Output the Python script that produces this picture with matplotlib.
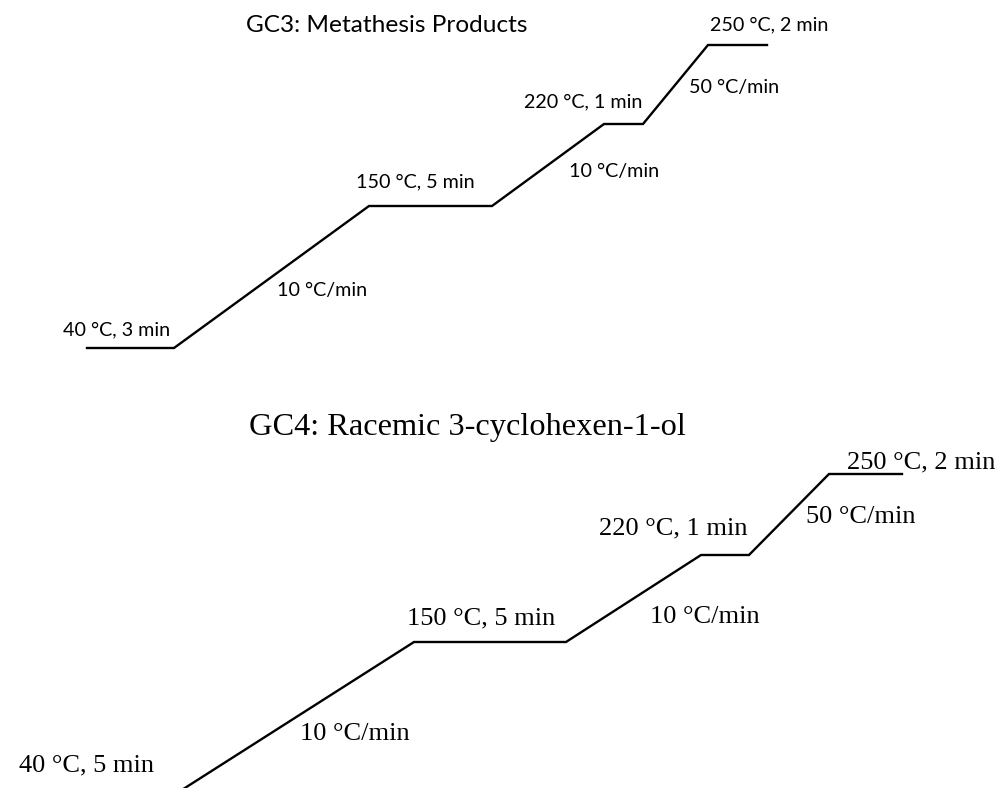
import matplotlib
matplotlib.use("Agg")
import matplotlib.pyplot as plt

# schematic temperature programs (canvas units, y grows downward)
gc3_x = [87, 174, 369, 492, 604, 643, 708, 767]
gc3_y = [348, 348, 206, 206, 124, 124, 45, 45]
gc3_labels = ["GC3: Metathesis Products", "40 °C, 3 min", "10 °C/min", "150 °C, 5 min",
              "10 °C/min", "220 °C, 1 min", "50 °C/min", "250 °C, 2 min"]
gc3_label_xy = [(387, 25), (63, 330), (277, 290), (356, 182),
                (569, 171), (524, 102), (689, 87), (710, 25)]

gc4_x = [60, 119, 414, 566, 701, 749, 829, 902]
gc4_y = [830, 830, 642, 642, 555, 555, 474, 474]
gc4_labels = ["GC4: Racemic 3-cyclohexen-1-ol", "40 °C, 5 min", "10 °C/min", "150 °C, 5 min",
              "10 °C/min", "220 °C, 1 min", "50 °C/min", "250 °C, 2 min"]
gc4_label_xy = [(467, 427), (19, 765), (300, 734), (407, 618),
                (650, 617), (599, 528), (806, 517), (847, 462)]

fig = plt.figure(figsize=(9.99, 7.88), dpi=100)
ax = fig.add_axes([0, 0, 1, 1])
ax.set_xlim(0, 999)
ax.set_ylim(788, 0)
ax.axis("off")

ax.plot(gc3_x, gc3_y, color="black", lw=1.7, solid_joinstyle="miter")
ax.plot(gc4_x, gc4_y, color="black", lw=1.7, solid_joinstyle="miter")

sans = ["Lato", "DejaVu Sans"]
serif = ["Liberation Serif", "DejaVu Serif"]

for i, (txt, (x, y)) in enumerate(zip(gc3_labels, gc3_label_xy)):
    ax.text(x, y, txt, ha="center" if i == 0 else "left", va="center",
            fontsize=17.6 if i == 0 else 14.2, family=sans)

for i, (txt, (x, y)) in enumerate(zip(gc4_labels, gc4_label_xy)):
    ax.text(x, y, txt, ha="center" if i == 0 else "left", va="center",
            fontsize=23.3 if i == 0 else 19, family=serif)

fig.savefig("out.png", dpi=100)
